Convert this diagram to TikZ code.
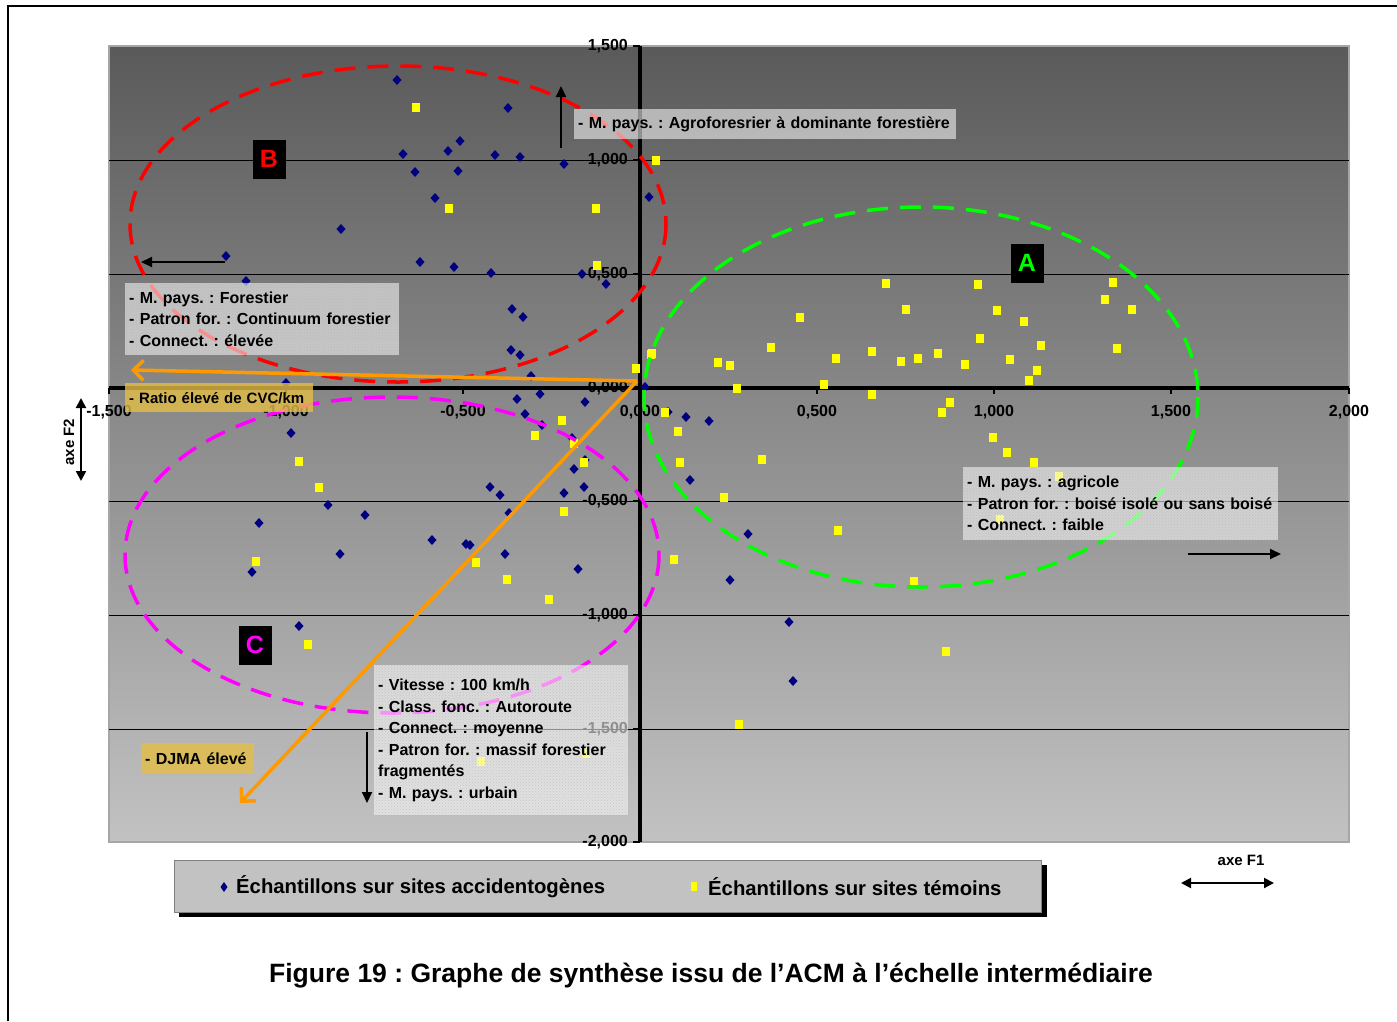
\documentclass[tikz,border=0pt]{standalone}
\usepackage{fontspec}
\setmainfont{Liberation Sans}
\usetikzlibrary{arrows.meta,patterns}
\definecolor{navyb}{HTML}{000080}
\definecolor{yel}{HTML}{FFFF00}
\definecolor{org}{HTML}{FF9900}
\definecolor{gld}{HTML}{E4BE46}
\definecolor{bgtop}{HTML}{5A5A5A}
\definecolor{bgbot}{HTML}{C2C2C2}
\definecolor{redd}{RGB}{255,0,0}
\definecolor{grn}{RGB}{0,255,0}
\definecolor{mag}{RGB}{255,0,255}
\frenchspacing
\begin{document}
\begin{tikzpicture}[x=1pt,y=-1pt,
  tick/.style={font=\bfseries\fontsize{16}{16}\selectfont, inner sep=0pt},
  txtbox/.style={fill=white, fill opacity=0.55, text opacity=1, inner xsep=4pt, inner ysep=2pt,
     align=left, anchor=north west, font=\bfseries\fontsize{16}{21.5}\selectfont,
     postaction={pattern=crosshatch dots, pattern color=gray!60}},
  goldbox/.style={fill=gld, fill opacity=0.8, text opacity=1, inner xsep=4pt, inner ysep=2pt,
     align=left, anchor=north west, font=\bfseries\fontsize{16}{16}\selectfont},
  lettr/.style={fill=black, minimum width=33pt, minimum height=39pt, inner sep=0pt,
     font=\bfseries\fontsize{25}{25}\selectfont},
  ell/.style={line width=3.5pt, dash pattern=on 21pt off 12pt},
  blk/.style={line width=2pt, -{Triangle[length=11pt,width=10pt]}},
  orar/.style={org, line width=3.5pt, -{Straight Barb[length=10pt,width=20pt,line width=3.5pt]}}
]
\useasboundingbox (0,0) rectangle (1397,1021);
\fill[white] (0,0) rectangle (1397,1021);
% outer frame
\draw[line width=2pt] (8,1021) -- (8,6) -- (1397,6);
% plot area
\shade[top color=bgtop, bottom color=bgbot] (109,46) rectangle (1349,842);
\draw[gray!70, line width=1.5pt] (109,46) rectangle (1349,842);
% grid
\foreach \yy in {160,274,501,615,729} \draw[line width=0.8pt] (109,\yy) -- (1349,\yy);
% axes
\draw[line width=4pt] (109,388) -- (1349,388);
\draw[line width=4pt] (640,46) -- (640,842);
\foreach \xx in {109,286,463,640,817,994,1171,1349} \draw[line width=2pt] (\xx,388) -- (\xx,394);
\foreach \yy in {46,160,274,388,501,615,729,842} \draw[line width=2pt] (640,\yy) -- (633,\yy);
% tick labels
\foreach \xx/\lab in {109/{-1,500},286/{-1,000},463/{-0,500},640/{0,000},817/{0,500},994/{1,000},1171/{1,500},1349/{2,000}}
  \node[tick] at (\xx,412) {\lab};
\foreach \yy/\lab in {46/{1,500},160/{1,000},274/{0,500},388/{0,000},501/{-0,500},615/{-1,000},729/{-1,500},842/{-2,000}}
  \node[tick, anchor=east] at (628,\yy) {\lab};
% blue diamonds
\foreach \p in {(397,80),(508,108),(460,141),(448,151),(403,154),(495,155),(520,157),(415,172),(458,171),(564,164),(435,198),(341,229),(226,256),(420,262),(454,267),(491,273),(582,274),(606,284),(246,281),(649,197),(512,309),(523,317),(511,350),(520,355),(531,376),(540,394),(517,399),(585,402),(286,383),(645,387),(525,414),(542,425),(572,438),(585,460),(574,469),(584,487),(564,493),(490,487),(500,495),(509,513),(291,433),(328,505),(365,515),(259,523),(432,540),(466,544),(470,545),(340,554),(505,554),(252,572),(578,569),(299,626),(686,417),(709,421),(668,412),(690,480),(748,534),(730,580),(789,622),(793,681)}
  \fill[navyb] \p +(0,-5) -- +(4.5,0) -- +(0,5) -- +(-4.5,0) -- cycle;
% yellow squares
\foreach \p in {(416,107),(449,208),(596,208),(597,265),(656,160),(636,368),(652,353),(562,420),(535,435),(574,443),(584,462),(299,461),(319,487),(564,511),(256,561),(476,562),(507,579),(549,599),(308,644),(481,761),(586,753),(886,283),(978,284),(1113,282),(1105,299),(1132,309),(906,309),(997,310),(800,317),(1024,321),(980,338),(771,347),(1041,345),(1117,348),(651,354),(872,351),(938,353),(836,358),(901,361),(918,358),(965,364),(1010,359),(718,362),(730,365),(1037,370),(1029,380),(824,384),(737,388),(872,394),(665,412),(950,402),(942,412),(678,431),(993,437),(1007,452),(762,459),(680,462),(1034,462),(1059,476),(724,497),(1000,519),(838,530),(674,559),(914,581),(739,724),(946,651)}
  \fill[yel] \p +(-4,-4.5) rectangle +(4,4.5);
% ellipses
\draw[ell, redd] (398,224) ellipse [x radius=268, y radius=158];
\draw[ell, grn] (921,397) ellipse [x radius=277, y radius=190];
\draw[ell, mag] (392,555) ellipse [x radius=267, y radius=158];
% text boxes
\node[txtbox, text width=374pt, minimum height=30pt] (bAgro) at (574,109) {- M. pays. : Agroforesrier à dominante forestière};
\node[txtbox, text width=266pt, minimum height=72pt] (bB) at (125,283) {- M. pays. : Forestier\\- Patron for. : Continuum forestier\\- Connect. : élevée};
\node[txtbox, text width=307pt, minimum height=73pt] (bA) at (963,467) {- M. pays. : agricole\\- Patron for. : boisé isolé ou sans boisé\\- Connect. : faible};
\node[txtbox, text width=246pt, minimum height=150pt] (bC) at (374,665) {- Vitesse : 100 km/h\\- Class. fonc. : Autoroute\\- Connect. : moyenne\\- Patron for. : massif forestier\\fragmentés\\- M. pays. : urbain};
\node[goldbox, text width=180pt, minimum height=29pt, font=\bfseries\fontsize{15}{15}\selectfont] (bR) at (125,383) {\hbox{- Ratio élevé de CVC/km}};
\node[goldbox, text width=105pt, minimum height=30pt] (bD) at (141,743) {\hbox{- DJMA élevé}};
% letters
\node[lettr, text=redd] (lB) at (269,159) {B};
\node[lettr, text=grn] (lA) at (1027,263) {A};
\node[lettr, text=mag] (lC) at (255,645) {C};
% black arrows
\coordinate (u1) at (561,148); \coordinate (u2) at (561,86);
\draw[blk] (u1) -- (u2);
\coordinate (l1) at (225,262); \coordinate (l2) at (141,262);
\draw[blk] (l1) -- (l2);
\coordinate (r1) at (1188,554); \coordinate (r2) at (1281,554);
\draw[blk] (r1) -- (r2);
\coordinate (d1) at (367,732); \coordinate (d2) at (367,803);
\draw[blk] (d1) -- (d2);
% orange arrows
\coordinate (o) at (637,381);
\coordinate (oL) at (131,370);
\coordinate (oD) at (240,803);
\draw[orar] (o) -- (oL);
\draw[orar] (o) -- (oD);
% axis names
\coordinate (f2a) at (81,398); \coordinate (f2b) at (81,481);
\draw[line width=2pt, {Triangle[length=10pt,width=10pt]}-{Triangle[length=10pt,width=10pt]}] (f2a) -- (f2b);
\node[font=\bfseries\fontsize{15}{15}\selectfont, rotate=90] (F2) at (69,442) {axe F2};
\coordinate (f1a) at (1181,883); \coordinate (f1b) at (1274,883);
\draw[line width=2pt, {Triangle[length=10pt,width=10pt]}-{Triangle[length=10pt,width=10pt]}] (f1a) -- (f1b);
\node[font=\bfseries\fontsize{15}{15}\selectfont] (F1) at (1241,860) {axe F1};
% legend
\fill[black] (179,865) rectangle (1047,917);
\draw[fill=bgbot, draw=gray] (174,860) rectangle (1041,912);
\fill[navyb] (224,882) -- (227.5,887) -- (224,892) -- (220.5,887) -- cycle;
\node[font=\bfseries\fontsize{20.3}{20.3}\selectfont, anchor=west, inner sep=0pt] (lg1) at (236,887) {Échantillons sur sites accidentogènes};
\fill[yel] (691,882) rectangle (697,891);
\node[font=\bfseries\fontsize{20.3}{20.3}\selectfont, anchor=west, inner sep=0pt] (lg2) at (708,887) {Échantillons sur sites témoins};
% caption
\node[font=\bfseries\fontsize{26.5}{26.5}\selectfont] (cap) at (711,976) {Figure 19 : Graphe de synthèse issu de l’ACM à l’échelle intermédiaire};
\end{tikzpicture}
\end{document}
